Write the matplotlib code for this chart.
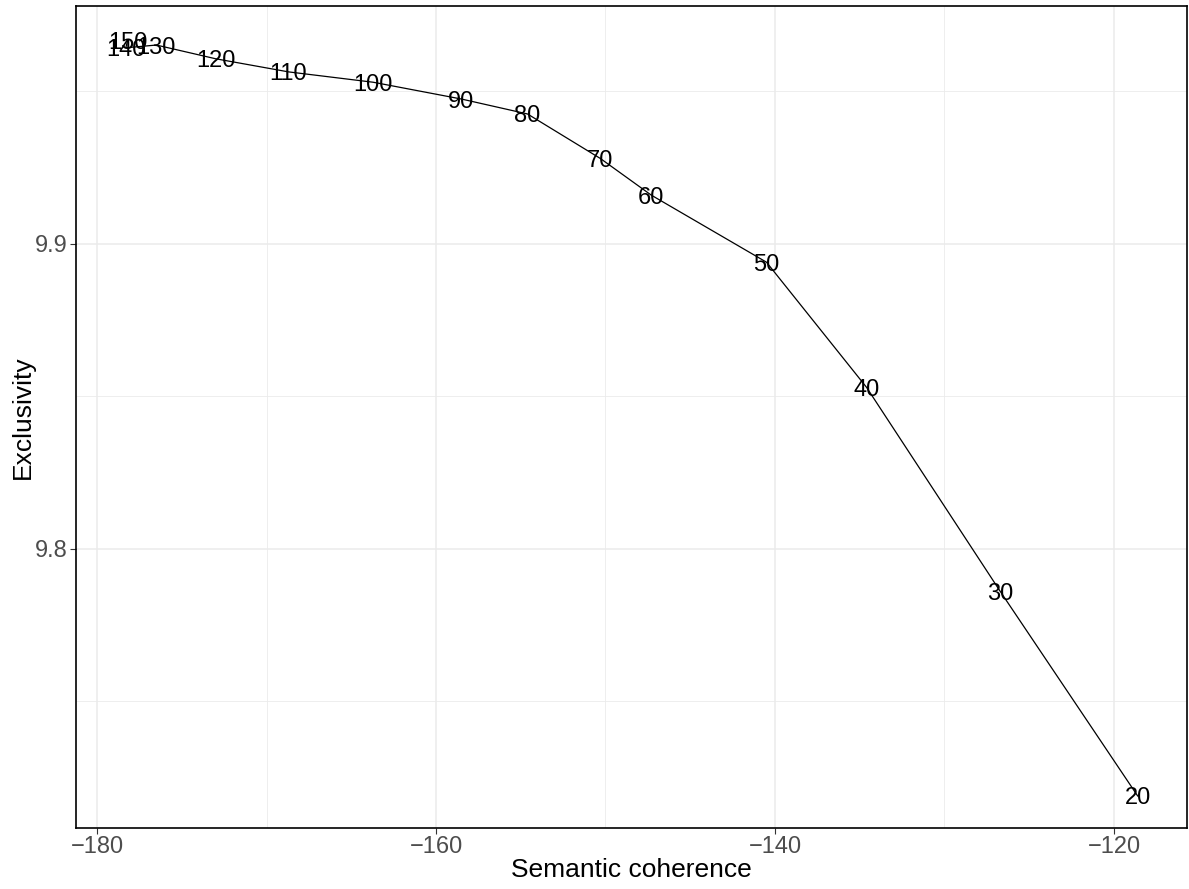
import matplotlib
matplotlib.use("Agg")
import matplotlib.pyplot as plt
from matplotlib.ticker import MultipleLocator

plt.rcParams['font.family'] = ['Liberation Sans', 'DejaVu Sans']

# number of topics K and the model diagnostics
topics = [20, 30, 40, 50, 60, 70, 80, 90, 100, 110, 120, 130, 140, 150]
coherence = [-118.6, -126.7, -134.6, -140.5, -147.3, -150.3, -154.6, -158.5,
             -163.7, -168.7, -173.0, -176.5, -178.3, -178.2]
exclusivity = [9.719, 9.786, 9.853, 9.894, 9.916, 9.928, 9.9426, 9.9475,
               9.953, 9.9564, 9.9607, 9.9652, 9.9643, 9.9666]

fig = plt.figure(figsize=(11.89, 8.89), dpi=100)
ax = fig.add_axes([76 / 1189, 1 - 828 / 889, (1187 - 76) / 1189, (828 - 6) / 889])

ax.plot(coherence, exclusivity, color="black", linewidth=0.9, zorder=2)
for k, x, y in zip(topics, coherence, exclusivity):
    ax.text(x, y, str(k), ha="center", va="center_baseline", fontsize=17, color="black", zorder=3)

ax.set_xlim(-181.24, -115.69)
ax.set_ylim(9.7085, 9.978)
ax.xaxis.set_major_locator(MultipleLocator(20))
ax.xaxis.set_minor_locator(MultipleLocator(10))
ax.yaxis.set_major_locator(MultipleLocator(0.1))
ax.yaxis.set_minor_locator(MultipleLocator(0.05))
ax.xaxis.set_major_formatter(plt.FuncFormatter(lambda v, p: "\u2212%d" % abs(v) if v < 0 else "%d" % v))

ax.grid(True, which="major", color="#ebebeb", linewidth=1.1)
ax.grid(True, which="minor", color="#ebebeb", linewidth=0.6)
ax.set_axisbelow(True)
for s in ax.spines.values():
    s.set_color("black")
    s.set_linewidth(1.2)

ax.tick_params(axis="both", which="major", labelsize=17, labelcolor="#4d4d4d",
               color="#333333", length=4, width=0.8, pad=2)
ax.tick_params(axis="both", which="minor", length=0)
ax.set_xlabel("Semantic coherence", fontsize=19, labelpad=0)
ax.set_ylabel("Exclusivity", fontsize=19, labelpad=0)

fig.savefig("out.png", dpi=100)
